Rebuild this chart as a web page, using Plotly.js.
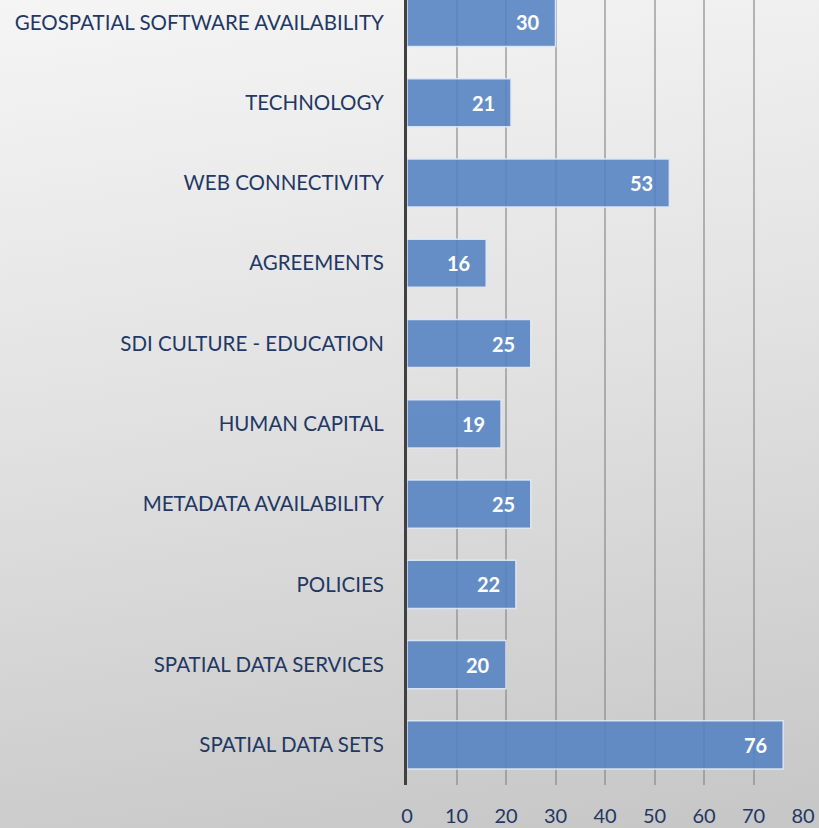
<!DOCTYPE html>
<html>
<head>
<meta charset="utf-8">
<script src="https://cdn.plot.ly/plotly-3.0.1.min.js"></script>
<style>
  html, body { margin: 0; padding: 0; }
  #chart { width: 819px; height: 828px; background: linear-gradient(172deg, #f5f5f5 0%, #e2e2e2 45%, #c6c6c6 100%); }
</style>
</head>
<body>
<div id="chart"></div>
<script>
const categories = [
  "SPATIAL DATA SETS",
  "SPATIAL DATA SERVICES",
  "POLICIES",
  "METADATA AVAILABILITY",
  "HUMAN CAPITAL",
  "SDI CULTURE - EDUCATION",
  "AGREEMENTS",
  "WEB CONNECTIVITY",
  "TECHNOLOGY",
  "GEOSPATIAL SOFTWARE AVAILABILITY"
];
const values = [76, 20, 22, 25, 19, 25, 16, 53, 21, 30];
const xTicks = [0, 10, 20, 30, 40, 50, 60, 70, 80];

const navy = "#1f3864";
const fontFam = "Lato, 'Open Sans', sans-serif";

const trace = {
  type: "bar",
  orientation: "h",
  x: values,
  y: categories,
  marker: {
    color: "rgba(84,130,193,0.88)",
    line: { color: "rgba(225,233,245,0.9)", width: 1.5 }
  },
  hoverinfo: "none"
};

const annotations = values.map((v, i) => ({
  x: v, y: categories[i], xref: "x", yref: "y",
  text: "<b>" + v + "</b>",
  showarrow: false, xanchor: "right", xshift: -14,
  font: { family: fontFam, size: 20, color: "#ffffff" }
}));

const layout = {
  width: 819, height: 828,
  margin: { l: 407, r: 16, t: 0, b: 43, pad: 0 },
  paper_bgcolor: "rgba(0,0,0,0)",
  plot_bgcolor: "rgba(0,0,0,0)",
  showlegend: false,
  bargap: 0.4,
  xaxis: {
    range: [0, 80],
    tickvals: xTicks,
    ticktext: xTicks.map(String),
    showgrid: true,
    gridcolor: "rgba(130,130,130,0.55)",
    gridwidth: 2,
    zeroline: false,
    showline: false,
    ticks: "",
    ticklabelstandoff: 17,
    tickfont: { family: fontFam, size: 20, color: navy },
    fixedrange: true
  },
  yaxis: {
    type: "category",
    categoryorder: "array",
    categoryarray: categories,
    range: [-0.5, 9.28],
    showgrid: false,
    zeroline: false,
    showline: true,
    linecolor: "#404040",
    linewidth: 3,
    ticks: "",
    ticklabelstandoff: 16,
    tickfont: { family: fontFam, size: 20.5, color: navy },
    fixedrange: true
  },
  annotations: annotations
};

Plotly.newPlot("chart", [trace], layout, { displayModeBar: false, staticPlot: true });
</script>
</body>
</html>
